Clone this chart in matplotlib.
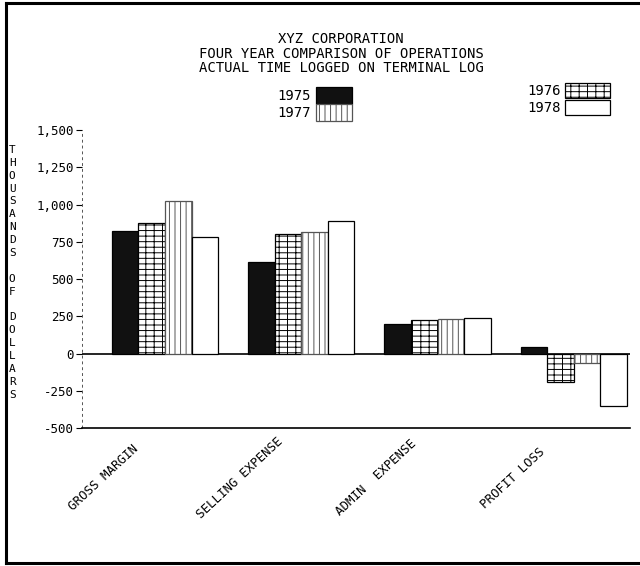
import numpy as np
import matplotlib
matplotlib.use('Agg')
import matplotlib.pyplot as plt
from matplotlib.lines import Line2D

# values in thousands of dollars
categories = ['GROSS MARGIN', 'SELLING EXPENSE', 'ADMIN  EXPENSE', 'PROFIT LOSS']
years = ['1975', '1976', '1977', '1978']
v1975 = [825, 615, 195, 45]
v1976 = [875, 805, 225, -190]
v1977 = [1025, 815, 230, -65]
v1978 = [780, 890, 240, -355]
yticks = [-500, -250, 0, 250, 500, 750, 1000, 1250, 1500]
ytick_labels = ['-500', '-250', '0', '250', '500', '750', '1,000', '1,250', '1,500']

plt.rcParams['font.family'] = 'DejaVu Sans Mono'
plt.rcParams['hatch.linewidth'] = 0.7

fig = plt.figure(figsize=(6.4, 5.66), dpi=100)
ax = fig.add_axes([0.128, 0.2438, 0.856, 0.5265])

# bar styles per year
styles = [
    dict(color='#111111', edgecolor='black'),
    dict(color='white', edgecolor='black', hatch='---||'),
    dict(color='white', edgecolor='#555555', hatch='|||'),
    dict(color='white', edgecolor='black'),
]
series = [v1975, v1976, v1977, v1978]

x = np.arange(len(categories))
w = 0.195
bars = []
for i, (vals, st) in enumerate(zip(series, styles)):
    b = ax.bar(x + (i - 1.5) * w, vals, width=w, linewidth=0.9, label=years[i], **st)
    bars.append(b)

ax.set_xlim(-0.61, 3.41)
ax.set_ylim(-500, 1500)

# axes lines
for s in ['top', 'right', 'left']:
    ax.spines[s].set_visible(False)
ax.spines['bottom'].set_linewidth(1.2)
ax.axhline(0, color='black', lw=1.2, zorder=0)
ax.axvline(-0.61, color='#555555', lw=0.7, ls=(0, (3, 3)), clip_on=False)

ax.set_yticks(yticks)
ax.set_yticklabels(ytick_labels, fontsize=9)
ax.tick_params(axis='y', length=4, width=0.8, pad=2)
ax.set_xticks([])

# rotated category labels
for i, c in enumerate(categories):
    ax.text(i - 0.45, -0.168, c, transform=ax.get_xaxis_transform(), rotation=43,
            ha='center', va='center', fontsize=9)

# stacked y label
fig.text(0.019, 0.519, '\n'.join('THOUSANDS OF DOLLARS'), ha='center', va='center',
         fontsize=8, linespacing=1.36)

# title
fig.text(0.533, 0.905, 'XYZ CORPORATION\nFOUR YEAR COMPARISON OF OPERATIONS\nACTUAL TIME LOGGED ON TERMINAL LOG',
         ha='center', va='center', fontsize=10, linespacing=1.05)

# legends: 1975/1977 and 1976/1978
leg1 = fig.legend([bars[0], bars[2]], ['1975', '1977'], loc='upper right',
                  bbox_to_anchor=(0.55, 0.846), frameon=False, markerfirst=False,
                  handlelength=2.6, handleheight=1.45, handletextpad=0.4,
                  labelspacing=0.05, borderpad=0, borderaxespad=0, fontsize=10)
leg2 = fig.legend([bars[1], bars[3]], ['1976', '1978'], loc='upper right',
                  bbox_to_anchor=(0.953, 0.853), frameon=False, markerfirst=False,
                  handlelength=3.2, handleheight=1.3, handletextpad=0.3,
                  labelspacing=0.1, borderpad=0, borderaxespad=0, fontsize=10)

# page border (top, left, bottom)
for xs, ys in [([0.009, 1.0], [0.995, 0.995]), ([0.009, 0.009], [0.005, 0.995]),
               ([0.009, 1.0], [0.005, 0.005])]:
    fig.add_artist(Line2D(xs, ys, color='black', lw=2.2, transform=fig.transFigure))

fig.savefig('out.png', dpi=100)
